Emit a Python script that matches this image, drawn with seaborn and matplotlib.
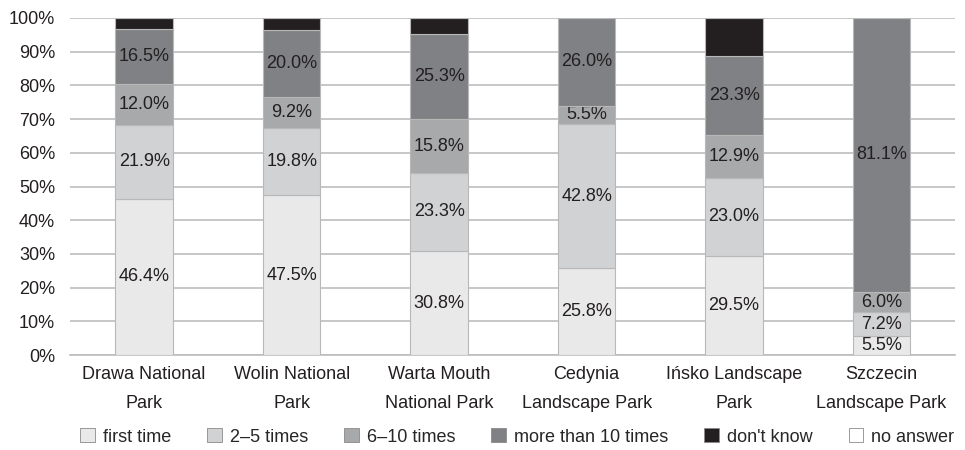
import numpy as np
import pandas as pd
import seaborn as sns
import matplotlib.pyplot as plt
from matplotlib.patches import Patch

parks = ["Drawa National\nPark", "Wolin National\nPark", "Warta Mouth\nNational Park",
         "Cedynia\nLandscape Park", "Ińsko Landscape\nPark", "Szczecin\nLandscape Park"]
series = ["first time", "2\u20135 times", "6\u201310 times", "more than 10 times", "don't know", "no answer"]

first_time = [46.4, 47.5, 30.8, 25.8, 29.5, 5.5]
times_2_5 = [21.9, 19.8, 23.3, 42.8, 23.0, 7.2]
times_6_10 = [12.0, 9.2, 15.8, 5.5, 12.9, 6.0]
more_10 = [16.5, 20.0, 25.3, 26.0, 23.3, 81.1]
dont_know = [3.2, 3.5, 4.8, 0.0, 11.3, 0.0]
no_answer = [0.0, 0.0, 0.0, 0.0, 0.0, 0.0]

colors = ["#e9e9ea", "#d1d2d3", "#a8a9ab", "#808184", "#231f20", "#ffffff"]
show_label = [True, True, True, True, False, False]

sns.set_style("white")
plt.rcParams['font.family'] = ['Liberation Sans', 'DejaVu Sans']
fs = 13
plt.rcParams['font.size'] = fs

df = pd.DataFrame({"park": parks, "first time": first_time, "2\u20135 times": times_2_5,
                   "6\u201310 times": times_6_10, "more than 10 times": more_10,
                   "don't know": dont_know, "no answer": no_answer})
# 100% stacked: each bar scaled to its own total
totals = df[series].sum(axis=1).to_numpy()

fig, ax = plt.subplots(figsize=(9.65, 4.5), dpi=100)
fig.subplots_adjust(left=0.073, right=0.99, top=0.96, bottom=0.211)

bottom = np.zeros(len(parks))
for s, c, lab in zip(series, colors, show_label):
    raw = df[s].to_numpy()
    vals = raw / totals * 100
    plot_df = pd.DataFrame({"park": parks, "share": vals})
    sns.barplot(x="park", y="share", data=plot_df, ax=ax, color=c, bottom=bottom, width=0.39,
                edgecolor="#b8b8b8", linewidth=0.8, saturation=1, zorder=3)
    cont = ax.containers[-1]
    if lab:
        ax.bar_label(cont, labels=[f"{v:.1f}%" for v in raw], label_type="center",
                     fontsize=fs, color="#231f20")
    bottom = bottom + vals

ax.set_ylim(0, 100)
ax.set_xlim(-0.5, len(parks) - 0.5)
ax.set_yticks(np.arange(0, 101, 10))
ax.set_yticklabels([f"{t}%" for t in range(0, 101, 10)])
ax.yaxis.grid(True, color="#bdbdbd", linewidth=1.2, zorder=0)
ax.set_axisbelow(True)
ax.set_xlabel("")
ax.set_ylabel("")
for sp in ["top", "right", "left"]:
    ax.spines[sp].set_visible(False)
ax.spines["bottom"].set_color("#bdbdbd")
ax.spines["bottom"].set_linewidth(1.2)
ax.tick_params(axis="both", length=0, labelsize=fs, colors="#231f20")
ax.tick_params(axis="x", pad=8)
ax.tick_params(axis="y", pad=11)
for t in ax.get_xticklabels():
    t.set_linespacing(1.9)

handles = [Patch(facecolor=c, edgecolor="#8a8a8a", linewidth=0.6) for c in colors]
fig.legend(handles, series, loc="center", ncol=6, frameon=False,
           bbox_to_anchor=(0.536, 0.029), fontsize=fs, handlelength=0.8,
           handleheight=0.8, handletextpad=0.45, columnspacing=2.0)

plt.savefig("out.png", dpi=100)
